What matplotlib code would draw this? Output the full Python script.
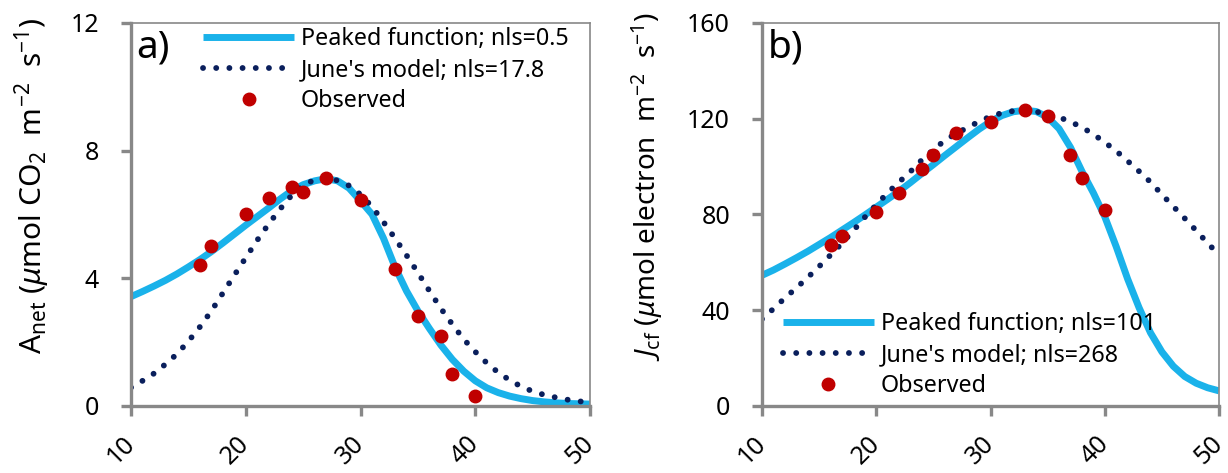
import numpy as np
import matplotlib
matplotlib.use('Agg')
import matplotlib.pyplot as plt

plt.rcParams['font.family'] = ['Noto Sans', 'DejaVu Sans']
plt.rcParams['mathtext.fontset'] = 'custom'
plt.rcParams['mathtext.rm'] = 'Noto Sans'
plt.rcParams['mathtext.it'] = 'Noto Sans:italic'

# temperature grid of the model curves
temp = list(range(10, 51))

# panel a: net assimilation
a_peaked = [3.42, 3.58, 3.75, 3.93, 4.13, 4.35, 4.58, 4.83, 5.10, 5.38,
            5.66, 5.93, 6.20, 6.48, 6.74, 6.93, 7.05, 7.12, 7.05, 6.82,
            6.42, 6.00, 5.25, 4.35, 3.60, 2.97, 2.42, 1.90, 1.45, 1.08,
            0.78, 0.56, 0.41, 0.30, 0.22, 0.16, 0.12, 0.09, 0.07, 0.06, 0.05]
a_june = [0.57, 0.78, 1.01, 1.30, 1.62, 2.02, 2.47, 2.97, 3.53, 4.09,
          4.64, 5.19, 5.70, 6.17, 6.60, 6.92, 7.08, 7.13, 7.06, 6.90,
          6.62, 6.24, 5.76, 5.25, 4.72, 4.17, 3.60, 3.05, 2.55, 2.08,
          1.69, 1.34, 1.04, 0.80, 0.60, 0.45, 0.34, 0.26, 0.19, 0.14, 0.10]

# panel b: electron transport
b_peaked = [54.5, 56.7, 59.2, 61.8, 64.5, 67.4, 70.3, 73.4, 76.5, 79.7,
            83.0, 86.3, 89.7, 93.3, 97.1, 100.8, 104.6, 108.3, 112.0, 115.6,
            118.8, 121.3, 122.9, 123.5, 123.0, 120.6, 115.8, 108.0, 98.0, 89.0,
            79.0, 66.5, 53.0, 41.0, 30.5, 22.5, 16.5, 12.2, 9.4, 7.5, 6.2]
b_june = [36.2, 40.5, 45.0, 49.2, 53.6, 58.2, 63.0, 67.9, 73.2, 78.8,
          84.0, 89.0, 93.5, 97.9, 102.8, 107.0, 110.9, 113.8, 116.3, 118.8,
          120.9, 122.4, 123.2, 123.4, 122.9, 121.9, 120.6, 118.7, 116.4, 113.5,
          110.1, 106.5, 102.3, 98.0, 93.5, 88.3, 83.3, 78.3, 73.2, 68.0, 63.0]

obs_temp = [16, 17, 20, 22, 24, 25, 27, 30, 33, 35, 37, 38, 40]
obs_a = [4.4, 5.0, 6.0, 6.5, 6.85, 6.7, 7.15, 6.45, 4.3, 2.8, 2.2, 1.0, 0.3]
obs_b = [67, 71, 81, 89, 99, 105, 114, 118.5, 123.5, 121, 105, 95, 82]

a_labels = ['Peaked function; nls=0.5', "June's model; nls=17.8", 'Observed']
b_labels = ['Peaked function; nls=101', "June's model; nls=268", 'Observed']

CYAN = '#1AB2EA'
NAVY = '#0A1F5C'
RED = '#C00000'
GREY = '#888888'


def style_axes(ax, ymax, ystep):
    ax.set_xlim(10, 50)
    ax.set_ylim(0, ymax)
    ax.set_xticks(np.arange(10, 51, 10))
    ax.set_yticks(np.arange(0, ymax + 1, ystep))
    for side in ['left', 'bottom']:
        ax.spines[side].set_linewidth(2.4)
        ax.spines[side].set_color(GREY)
    for side in ['top', 'right']:
        ax.spines[side].set_linewidth(1.2)
        ax.spines[side].set_color(GREY)
    ax.tick_params(axis='both', direction='out', length=7, width=2.4,
                   color=GREY, labelsize=18)
    ax.tick_params(axis='y', pad=16)
    for lab in ax.get_xticklabels():
        lab.set_rotation(45)
        lab.set_rotation_mode('anchor')
        lab.set_ha('right')
        lab.set_va('center')
    ax.tick_params(axis='x', pad=18)


def draw_panel(ax, peaked, june, obs, labels):
    ax.plot(temp, peaked, color=CYAN, lw=5, solid_capstyle='butt', label=labels[0])
    ax.plot(temp, june, color=NAVY, lw=4.2, linestyle=(0, (0.01, 2.25)),
            dash_capstyle='round', label=labels[1])
    ax.plot(obs_temp, obs, 'o', color=RED, ms=9, label=labels[2])


fig = plt.figure(figsize=(12.28, 4.73), dpi=100)
ax1 = fig.add_axes([0.1067, 0.1423, 0.3738, 0.8091])
ax2 = fig.add_axes([0.6205, 0.1423, 0.3722, 0.8091])

legend_kw = dict(frameon=False, fontsize=16.8, handlelength=3.9, handletextpad=0.3,
                 labelspacing=0.3, numpoints=1, borderpad=0, borderaxespad=0)

draw_panel(ax1, a_peaked, a_june, obs_a, a_labels)
style_axes(ax1, 12, 4)
ax1.legend(loc='upper left', bbox_to_anchor=(0.157, 0.99), **legend_kw)
ax1.text(0.012, 0.985, 'a)', transform=ax1.transAxes, fontsize=28,
         ha='left', va='top')

draw_panel(ax2, b_peaked, b_june, obs_b, b_labels)
style_axes(ax2, 160, 40)
ax2.legend(loc='lower left', bbox_to_anchor=(0.046, 0.02), **legend_kw)
ax2.text(0.012, 0.985, 'b)', transform=ax2.transAxes, fontsize=28,
         ha='left', va='top')

fig.text(32 / 1228, 1 - 186 / 473,
         r'$\mathrm{A}_\mathrm{net}$ ($\mu$mol CO$_2$  m$^{-2}$  s$^{-1}$)',
         rotation=90, ha='center', va='center', fontsize=21.5)
fig.text(647 / 1228, 1 - 186 / 473,
         r'$J_\mathrm{cf}$ ($\mu$mol electron  m$^{-2}$  s$^{-1}$)',
         rotation=90, ha='center', va='center', fontsize=20)

fig.savefig('out.png', dpi=100)
